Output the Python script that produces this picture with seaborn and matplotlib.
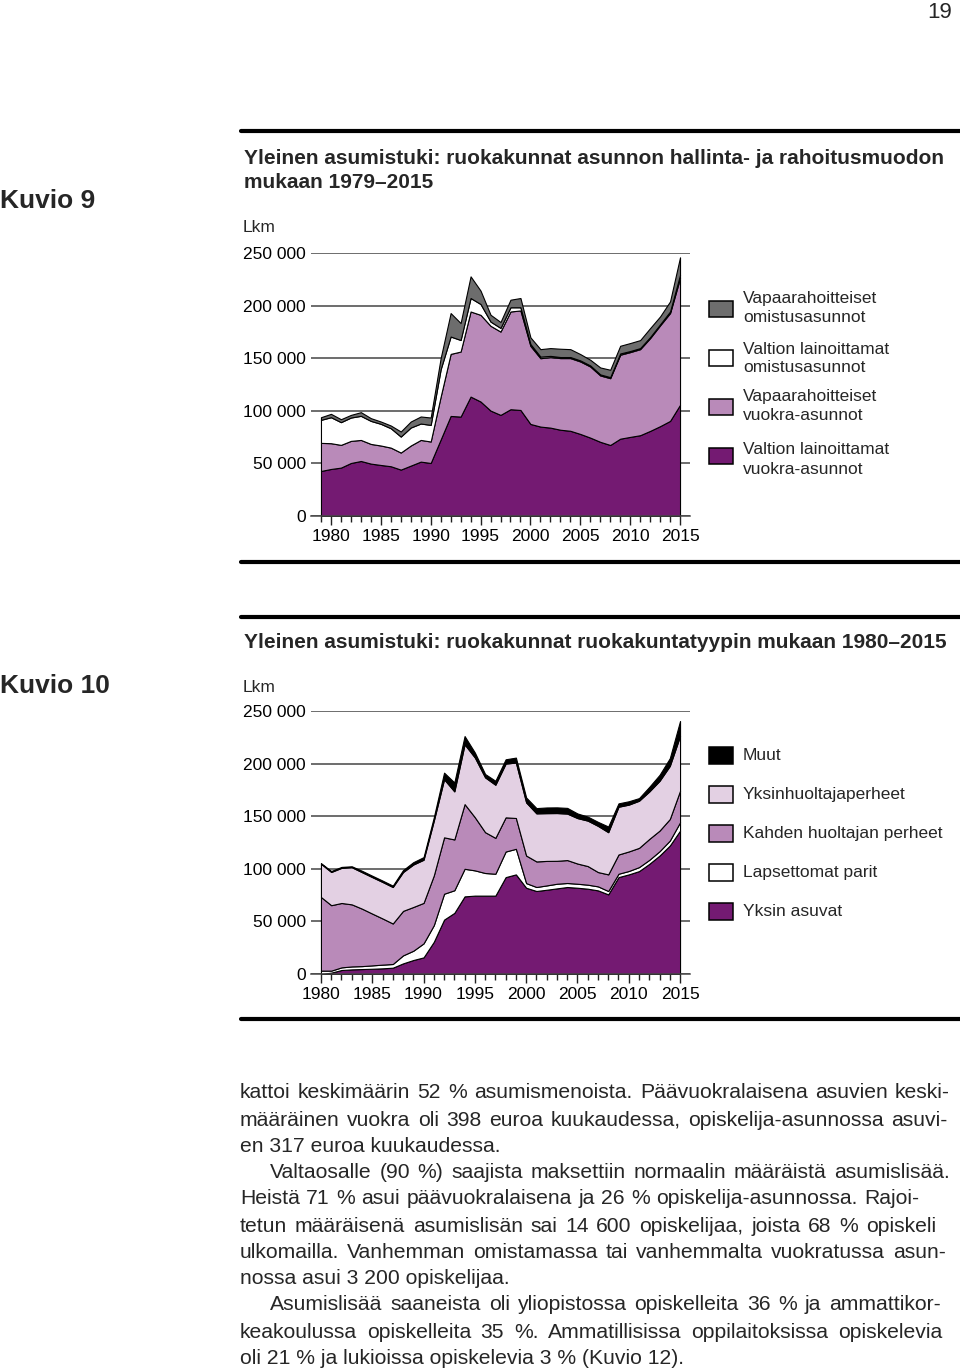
import matplotlib
matplotlib.use("Agg")
import matplotlib.pyplot as plt
import seaborn as sns
from matplotlib.patches import Rectangle
from matplotlib.ticker import FuncFormatter, MultipleLocator

# --- Kuvio 9: ruokakunnat asunnon hallinta- ja rahoitusmuodon mukaan ---
years_9 = list(range(1979, 2016))
valtion_vuokra = [42800, 44700, 46000, 50400, 52300, 49800, 48500, 47300, 44100, 47900,
                  51700, 50400, 72700, 95100, 94500, 113500, 108800, 100200, 96100, 101500,
                  100800, 87500, 85000, 84000, 82000, 81000, 78000, 74500, 70500, 67500,
                  73500, 75200, 76800, 80900, 85400, 90400, 105700]
vapaa_vuokra = [26700, 24500, 21600, 21000, 20000, 18700, 18500, 17700, 16200, 19100,
                20600, 20400, 40800, 59000, 61800, 80900, 82400, 80600, 79200, 92900,
                94600, 74200, 65000, 67000, 68100, 69100, 68900, 67600, 63100, 63500,
                79800, 80600, 81800, 88200, 95800, 102500, 120500]
valtion_omistus = [21900, 24700, 21600, 22200, 22900, 21900, 20600, 18400, 15200, 17100,
                   15600, 15800, 26000, 16500, 11000, 12800, 10300, 4000, 3500, 4000,
                   3000, 1800, 1500, 1200, 1000, 1000, 1000, 1000, 1000, 1000,
                   1200, 1000, 1000, 1000, 1000, 1500, 3000]
vapaa_omistus = [2500, 3200, 2800, 2500, 3500, 2600, 2200, 2600, 4800, 5700,
                 6700, 7000, 10600, 22300, 16100, 20600, 12700, 6500, 5600, 7200,
                 8800, 6300, 7100, 7400, 7900, 7500, 6000, 5400, 6600, 7000,
                 7300, 7600, 7600, 8500, 7500, 9600, 16700]
labels_9 = ["Valtion lainoittamat\nvuokra-asunnot", "Vapaarahoitteiset\nvuokra-asunnot",
            "Valtion lainoittamat\nomistusasunnot", "Vapaarahoitteiset\nomistusasunnot"]
colors_9 = ["#741a72", "#b98ab9", "#ffffff", "#6d6d6d"]

# --- Kuvio 10: ruokakunnat ruokakuntatyypin mukaan ---
years_10 = list(range(1980, 2016))
yksin_asuvat = [0, 1300, 3800, 4400, 4700, 5000, 5400, 6000, 10100, 13300,
                15800, 30600, 51700, 58100, 73800, 74500, 74500, 74500, 92100, 94700,
                82000, 78900, 80100, 81400, 82700, 82000, 81100, 79500, 75700, 92100,
                94700, 97800, 104700, 112600, 122100, 136300]
lapsettomat_parit = [3200, 1900, 2500, 2800, 2800, 3200, 3500, 3500, 7600, 8800,
                     13300, 15800, 24600, 21500, 26200, 24000, 21500, 20800, 24300, 24300,
                     4400, 3800, 4100, 4400, 3800, 3800, 3800, 3800, 3200, 3200,
                     3200, 3800, 3800, 4100, 4700, 7900]
kahden_huoltajan = [70000, 62200, 61200, 59000, 54600, 49200, 43900, 38500, 42300, 41600,
                    38500, 47300, 53600, 48300, 61500, 50500, 38800, 34100, 32500, 29300,
                    26200, 24300, 23300, 21800, 21800, 19200, 17700, 13600, 15800, 18300,
                    18600, 18300, 19900, 19600, 20500, 30000]
yksinhuoltajat = [31600, 31600, 33400, 35300, 34700, 34700, 34700, 34700, 36900, 40400,
                  41000, 52100, 55200, 45700, 56800, 56800, 52100, 50500, 51100, 52700,
                  50500, 45700, 45400, 45400, 44200, 43200, 43200, 43900, 40100, 45400,
                  44500, 44800, 45100, 47300, 50500, 52100]
muut = [600, 900, 900, 900, 1300, 1300, 1300, 1300, 1900, 2200,
        2500, 3200, 6300, 8500, 7900, 4700, 3200, 3800, 4100, 4700,
        4700, 5000, 5400, 5400, 5400, 4400, 3800, 3800, 5400, 3200,
        3200, 2500, 4400, 5700, 7300, 14200]
labels_10 = ["Yksin asuvat", "Lapsettomat parit", "Kahden huoltajan perheet",
             "Yksinhuoltajaperheet", "Muut"]
colors_10 = ["#741a72", "#ffffff", "#b98ab9", "#e3d0e3", "#000000"]

W, H = 960, 1371
sns.set_theme(style="white")
plt.rcParams["font.family"] = ["Liberation Sans", "DejaVu Sans"]

fig = plt.figure(figsize=(W / 100, H / 100), dpi=100)
renderer = fig.canvas.get_renderer()


def fx(px):
    return px / W


def fy(py):
    return 1 - py / H


def text_width(s, size, **kw):
    t = fig.text(0, 0, s, fontsize=size, **kw)
    w = t.get_window_extent(renderer=renderer).width
    t.remove()
    return w


def area_chart(top, bottom, x0, x1, years, series, colors):
    ax = fig.add_axes([fx(311), fy(bottom), (690 - 311) / W, (bottom - top) / H])
    ax.stackplot(years, *series, colors=colors, edgecolor="black", linewidth=0.8)
    ax.set_xlim(x0, x1)
    ax.set_ylim(0, 250000)
    ax.yaxis.set_major_locator(MultipleLocator(50000))
    ax.yaxis.set_major_formatter(FuncFormatter(lambda v, p: f"{int(v):,}".replace(",", " ")))
    ax.set_xticks(range(1980, 2016, 5))
    ax.set_xticks(years, minor=True)
    ax.grid(axis="y", color="#454545", linewidth=1.1)
    ax.set_axisbelow(True)
    sns.despine(ax=ax, left=True, top=True, right=True)
    ax.spines["bottom"].set_color("#454545")
    ax.spines["bottom"].set_linewidth(1.1)
    ax.tick_params(axis="y", length=0, pad=3.6, labelsize=12.5, labelcolor="black")
    ax.tick_params(axis="x", which="major", direction="out", length=6.5, width=1,
                   color="#222222", pad=3, labelsize=12.5, labelcolor="black", bottom=True)
    ax.tick_params(axis="x", which="minor", direction="out", length=4.3, width=1,
                   color="#222222", bottom=True)
    ax.set_facecolor("none")
    return ax


ax1 = area_chart(253, 516, 1978.0, 2016.0, years_9,
                 [valtion_vuokra, vapaa_vuokra, valtion_omistus, vapaa_omistus], colors_9)
ax2 = area_chart(711, 974, 1979.03, 2015.97, years_10,
                 [yksin_asuvat, lapsettomat_parit, kahden_huoltajan, yksinhuoltajat, muut],
                 colors_10)

# horizontal rules
for y in [131, 562, 617, 1019]:
    fig.add_artist(plt.Line2D([fx(241), 1], [fy(y), fy(y)], color="black", linewidth=3,
                              transform=fig.transFigure))

fig.text(fx(940), fy(13), "19", ha="center", va="center", fontsize=16)
fig.text(0, fy(201), "Kuvio 9", ha="left", va="center", fontsize=19, fontweight="bold")
fig.text(0, fy(686), "Kuvio 10", ha="left", va="center", fontsize=19, fontweight="bold")

title_1a = "Yleinen asumistuki: ruokakunnat asunnon hallinta- ja rahoitusmuodon"
title_1b = "mukaan 1979–2015"
title_2 = "Yleinen asumistuki: ruokakunnat ruokakuntatyypin mukaan 1980–2015"
title_size = 16 * 697 / text_width(title_1a, 16, fontweight="bold")
title_kw = dict(ha="left", va="center", fontsize=title_size, fontweight="bold")
fig.text(fx(244), fy(158), title_1a, **title_kw)
fig.text(fx(244), fy(183), title_1b, **title_kw)
fig.text(fx(244), fy(643), title_2, **title_kw)
fig.text(fx(243), fy(228), "Lkm", ha="left", va="center", fontsize=12.5)
fig.text(fx(243), fy(687), "Lkm", ha="left", va="center", fontsize=12.5)


def legend_item(box_top, box_h, text_ys, label, color):
    fig.add_artist(Rectangle((fx(709), fy(box_top + box_h)), 24 / W, box_h / H,
                             facecolor=color, edgecolor="black", linewidth=1.1,
                             transform=fig.transFigure))
    for ty, line in zip(text_ys, label.split("\n")):
        fig.text(fx(743), fy(ty), line, ha="left", va="center", fontsize=12.5)


legend_9 = [(301, [298, 317]), (350, [349, 368]), (399, [397, 416]), (448, [450, 469])]
for (bt, tys), lab, col in zip(legend_9, labels_9[::-1], colors_9[::-1]):
    legend_item(bt, 16, tys, lab, col)

legend_10 = [747, 786, 825, 864, 903]
for bt, lab, col in zip(legend_10, labels_10[::-1], colors_10[::-1]):
    legend_item(bt, 17, [bt + 8.5], lab, col)

# body text, justified lines
body = [
    (1093, 240, 950, "kattoi keskimäärin 52 % asumismenoista. Päävuokralaisena asuvien keski-"),
    (1120, 240, 947, "määräinen vuokra oli 398 euroa kuukaudessa, opiskelija-asunnossa asuvi-"),
    (1146, 240, None, "en 317 euroa kuukaudessa."),
    (1173, 270, 950, "Valtaosalle (90 %) saajista maksettiin normaalin määräistä asumislisää."),
    (1199, 240, 919, "Heistä 71 % asui päävuokralaisena ja 26 % opiskelija-asunnossa. Rajoi-"),
    (1226, 240, 936, "tetun määräisenä asumislisän sai 14 600 opiskelijaa, joista 68 % opiskeli"),
    (1252, 240, 946, "ulkomailla.  Vanhemman omistamassa tai vanhemmalta vuokratussa asun-"),
    (1279, 240, None, "nossa asui 3 200 opiskelijaa."),
    (1305, 270, 941, "Asumislisää saaneista oli yliopistossa opiskelleita 36 % ja ammattikor-"),
    (1332, 240, 942, "keakoulussa opiskelleita 35 %. Ammatillisissa oppilaitoksissa opiskelevia"),
    (1358, 240, None, "oli 21 % ja lukioissa opiskelevia 3 % (Kuvio 12)."),
]
body_size = 16 * min((x1 - x0) / text_width(s, 16) for _, x0, x1, s in body if x1) * 0.995
body_kw = dict(ha="left", va="center", fontsize=body_size)
for y, x0, x1, line in body:
    if x1 is None:
        fig.text(fx(x0), fy(y), line, **body_kw)
        continue
    words = line.split()
    items = [fig.text(0, fy(y), w, **body_kw) for w in words]
    widths = [t.get_window_extent(renderer=renderer).width for t in items]
    gap = (x1 - x0 - sum(widths)) / (len(words) - 1)
    x = x0
    for t, w in zip(items, widths):
        t.set_x(fx(x))
        x += w + gap

fig.savefig("out.png", dpi=100, facecolor="white")
